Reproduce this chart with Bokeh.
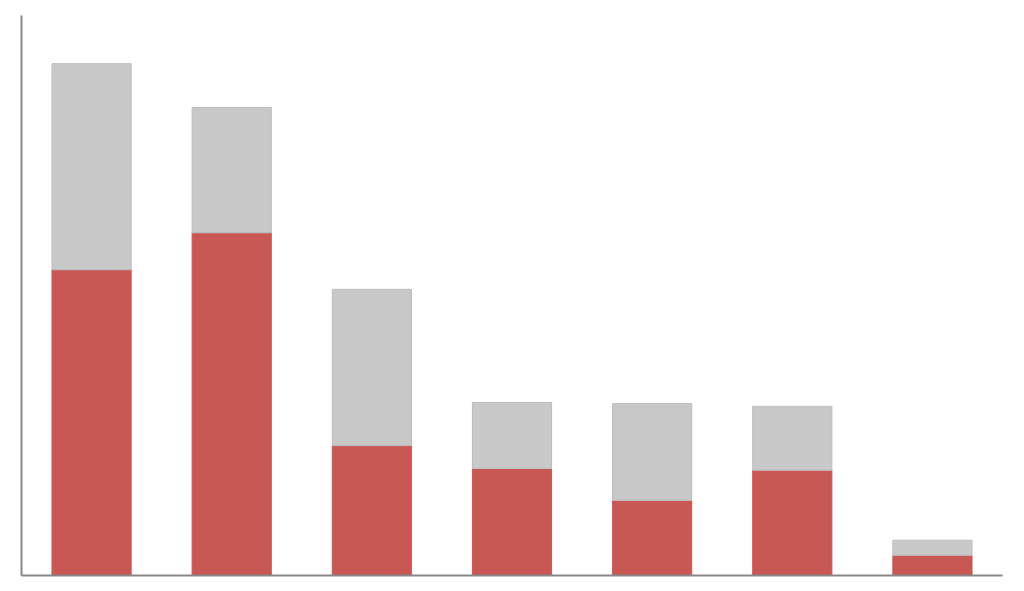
from bokeh.plotting import figure
from bokeh.models import FactorRange, Range1d, ColumnDataSource, FixedTicker
from bokeh.embed import file_html
from bokeh.resources import INLINE

categories = ["A", "B", "C", "D", "E", "F", "G"]
red_values = [54.6, 61.2, 23.2, 19.1, 13.4, 18.8, 3.6]
gray_values = [36.8, 22.4, 27.9, 11.8, 17.3, 11.4, 2.7]

src = ColumnDataSource(dict(cat=categories, red=red_values, gray=gray_values))

p = figure(x_range=FactorRange(*categories, range_padding=0.0),
           y_range=Range1d(0, 100),
           width=1008, height=583,
           output_backend="svg", toolbar_location=None,
           min_border_left=21, min_border_right=6, min_border_top=15, min_border_bottom=8)

p.vbar_stack(["red", "gray"], x="cat", width=0.565, source=src,
             color=["#c95754", "#c8c8c8"], line_color=["#c95754", "#bdbdbd"], line_width=1)

p.grid.visible = False
p.outline_line_color = None
for ax in (p.xaxis[0], p.yaxis[0]):
    ax.ticker = FixedTicker(ticks=[])
    ax.axis_line_color = "#888888"
    ax.axis_line_width = 2
    ax.major_tick_line_color = None
    ax.minor_tick_line_color = None
    ax.major_label_standoff = 0
    ax.axis_label = None
p.background_fill_color = "white"
p.border_fill_color = "white"

open("out.html", "w").write(file_html(p, INLINE))
